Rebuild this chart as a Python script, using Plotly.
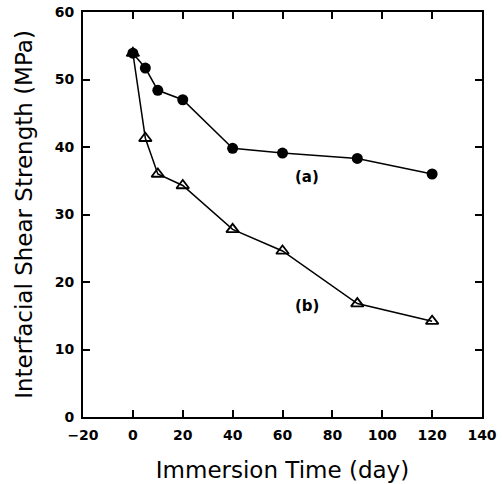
import plotly.graph_objects as go

days_a = [0, 5, 10, 20, 40, 60, 90, 120]
strength_a = [53.9, 51.7, 48.4, 47.0, 39.8, 39.1, 38.3, 36.0]
days_b = [0, 5, 10, 20, 40, 60, 90, 120]
strength_b = [53.9, 41.3, 36.0, 34.3, 27.8, 24.6, 16.8, 14.2]

x_ticks = [-20, 0, 20, 40, 60, 80, 100, 120, 140]
y_ticks = [0, 10, 20, 30, 40, 50, 60]

fig = go.Figure()
fig.add_trace(go.Scatter(
    x=days_a, y=strength_a, mode="lines+markers",
    line=dict(color="black", width=1.5),
    marker=dict(symbol="circle", size=11, color="black"),
    showlegend=False))
fig.add_trace(go.Scatter(
    x=days_b, y=strength_b, mode="lines+markers",
    line=dict(color="black", width=1.5),
    marker=dict(symbol="triangle-up-open", size=11, color="black", line=dict(width=1.8)),
    showlegend=False))

fig.add_annotation(x=70, y=35.6, text="<b>(a)</b>", showarrow=False,
                   font=dict(family="DejaVu Sans", size=15, color="black"))
fig.add_annotation(x=70, y=16.4, text="<b>(b)</b>", showarrow=False,
                   font=dict(family="DejaVu Sans", size=15, color="black"))

axis_common = dict(
    showgrid=False, zeroline=False, showline=True, linecolor="black", linewidth=2,
    mirror="ticks", ticks="inside", ticklen=7, tickwidth=1.5, tickcolor="black",
    tickfont=dict(family="DejaVu Sans", size=14, color="black", weight="bold"),
    automargin=False,
)
fig.update_xaxes(range=[-20, 140], tickvals=x_ticks, ticklabelstandoff=4,
                 title=dict(text="Immersion Time (day)", standoff=20,
                            font=dict(family="DejaVu Sans", size=23, color="black")),
                 **axis_common)
fig.update_yaxes(range=[0, 60], tickvals=y_ticks, ticklabelstandoff=4,
                 title=dict(text="Interfacial Shear Strength (MPa)", standoff=16,
                            font=dict(family="DejaVu Sans", size=23, color="black")),
                 **axis_common)
fig.update_layout(width=502, height=484, margin=dict(l=83, r=20, t=12, b=67),
                  plot_bgcolor="white", paper_bgcolor="white")
fig.write_html("out.html")
